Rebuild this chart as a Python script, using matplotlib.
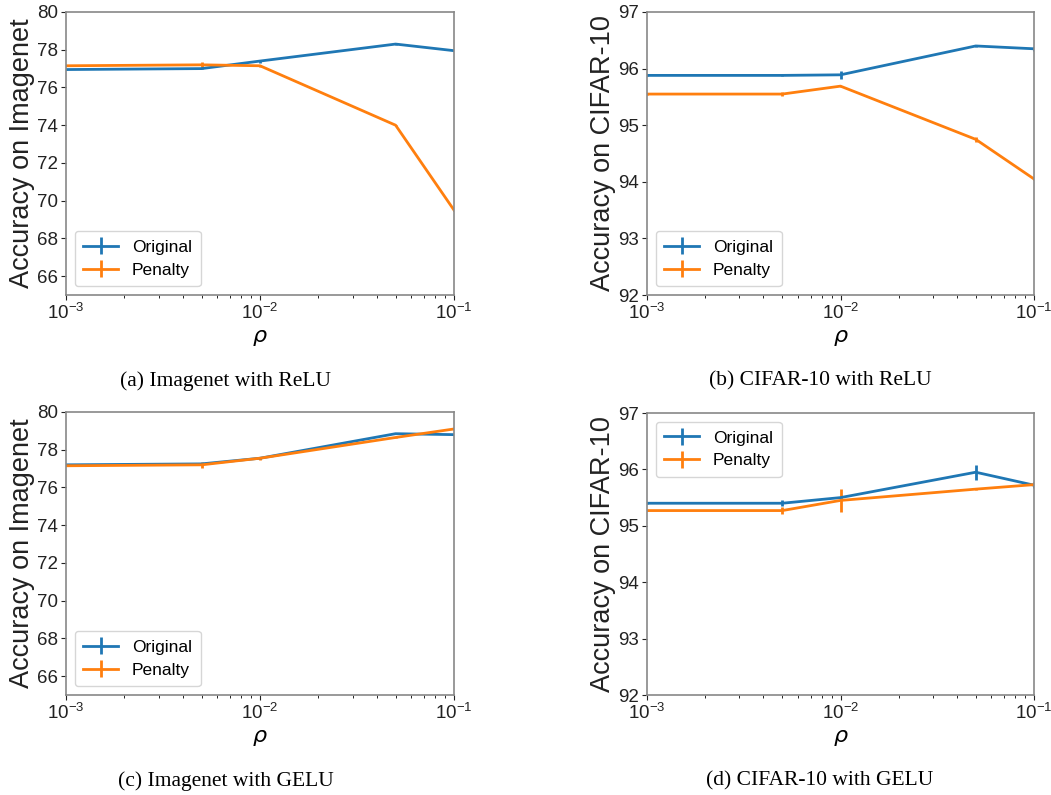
import matplotlib
matplotlib.use("Agg")
import matplotlib.pyplot as plt

plt.rcParams['font.family'] = ['Liberation Sans', 'DejaVu Sans']
plt.rcParams['mathtext.fontset'] = 'dejavusans'

rho = [1e-3, 5e-3, 1e-2, 5e-2, 1e-1]

# (a) Imagenet with ReLU
a_orig = [76.95, 77.0, 77.4, 78.3, 77.95]
a_orig_err = [0.03, 0.03, 0.08, 0.03, 0.03]
a_pen = [77.15, 77.2, 77.15, 74.0, 69.5]
a_pen_err = [0.03, 0.15, 0.05, 0.03, 0.05]

# (b) CIFAR-10 with ReLU
b_orig = [95.88, 95.88, 95.89, 96.4, 96.35]
b_orig_err = [0.01, 0.01, 0.07, 0.01, 0.04]
b_pen = [95.55, 95.55, 95.69, 94.75, 94.05]
b_pen_err = [0.01, 0.03, 0.01, 0.05, 0.01]

# (c) Imagenet with GELU
c_orig = [77.2, 77.25, 77.55, 78.85, 78.8]
c_orig_err = [0.03, 0.03, 0.05, 0.03, 0.03]
c_pen = [77.15, 77.2, 77.55, 78.65, 79.1]
c_pen_err = [0.03, 0.15, 0.08, 0.03, 0.03]

# (d) CIFAR-10 with GELU
d_orig = [95.4, 95.4, 95.5, 95.95, 95.72]
d_orig_err = [0.01, 0.05, 0.01, 0.13, 0.05]
d_pen = [95.27, 95.27, 95.45, 95.65, 95.73]
d_pen_err = [0.01, 0.06, 0.2, 0.01, 0.03]

panels = [
    (a_orig, a_orig_err, a_pen, a_pen_err, (65, 80), [66, 68, 70, 72, 74, 76, 78, 80],
     "Accuracy on Imagenet", "(a) Imagenet with ReLU", "lower left"),
    (b_orig, b_orig_err, b_pen, b_pen_err, (92, 97), [92, 93, 94, 95, 96, 97],
     "Accuracy on CIFAR-10", "(b) CIFAR-10 with ReLU", "lower left"),
    (c_orig, c_orig_err, c_pen, c_pen_err, (65, 80), [66, 68, 70, 72, 74, 76, 78, 80],
     "Accuracy on Imagenet", "(c) Imagenet with GELU", "lower left"),
    (d_orig, d_orig_err, d_pen, d_pen_err, (92, 97), [92, 93, 94, 95, 96, 97],
     "Accuracy on CIFAR-10", "(d) CIFAR-10 with GELU", "upper left"),
]

W, H = 1051, 795
fig = plt.figure(figsize=(W / 100, H / 100), dpi=100)

# axes boxes in pixels: left, top, right, bottom
boxes = [(66, 12, 454, 295), (647, 12, 1034, 295),
         (66, 412, 454, 695), (647, 413, 1034, 695)]
caption_xy = [(226, 381), (820, 381), (226, 781), (820, 781)]

for i, (box, p) in enumerate(zip(boxes, panels)):
    l, t, r, b = box
    ax = fig.add_axes([l / W, 1 - b / H, (r - l) / W, (b - t) / H])
    orig, oerr, pen, perr, ylim, yt, ylab, cap, loc = p
    ax.errorbar(rho, orig, yerr=oerr, color='#1f77b4', lw=2, label='Original')
    ax.errorbar(rho, pen, yerr=perr, color='#ff7f0e', lw=2, label='Penalty')
    ax.set_xscale('log')
    ax.set_xlim(1e-3, 1e-1)
    ax.set_ylim(*ylim)
    ax.set_yticks(yt)
    ax.tick_params(labelsize=13.5, colors='#222222', pad=2)
    for s in ax.spines.values():
        s.set_color('#888888')
        s.set_linewidth(1.2)
    ax.set_ylabel(ylab, fontsize=19.5, color='#222222', labelpad=2)
    ax.set_xlabel(r'$\rho$', fontsize=16, labelpad=3)
    ax.legend(loc=loc, fontsize=12.5, handlelength=2.0, borderpad=0.5,
              labelspacing=0.45, handletextpad=0.8)
    cx, cy = caption_xy[i]
    fig.text(cx / W, 1 - cy / H, cap, ha='center', va='center',
             fontsize=15.5, family=['Liberation Serif', 'DejaVu Serif'])

fig.savefig('out.png', dpi=100)
